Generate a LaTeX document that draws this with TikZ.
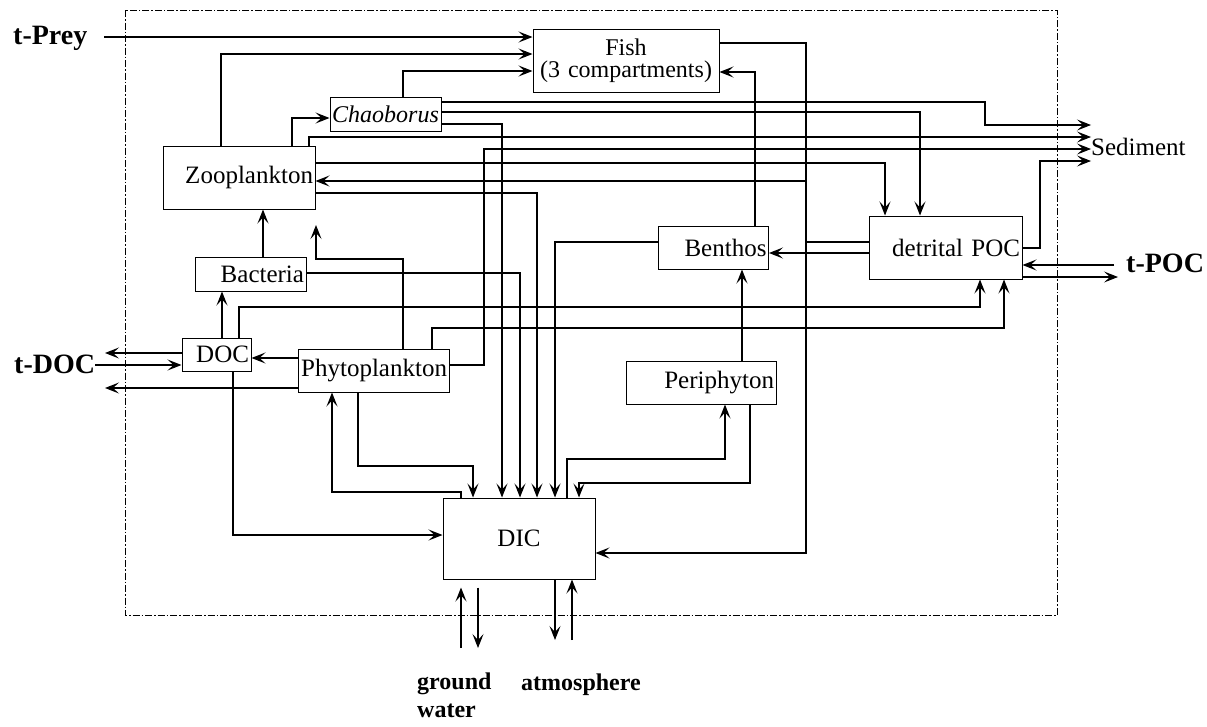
\documentclass[tikz,border=0pt]{standalone}
\usepackage{fontspec}
\setmainfont{Liberation Serif}
\usetikzlibrary{arrows.meta,positioning}

\begin{document}
\begin{tikzpicture}[x=1pt, y=-1pt,
  box/.style={draw, line width=1pt, inner xsep=2pt, inner ysep=0pt,
              font=\fontsize{25}{25}\selectfont, align=right},
  extlab/.style={font=\fontsize{28}{28}\selectfont\bfseries, inner sep=0pt},
  botlab/.style={font=\fontsize{24}{28}\selectfont\bfseries, inner sep=0pt, align=left},
  arr/.style={-{Stealth[length=14pt, width=11pt, inset=6pt]}, line width=1.1pt},
  flow/.style={line width=1.1pt},
  sysbound/.style={line width=0.8pt, dash pattern=on 7pt off 2pt on 1.5pt off 2pt}
]
  \useasboundingbox (0,0) rectangle (1207,726);

  % lake boundary
  \draw[sysbound] (125,10) rectangle (1057,615);

  % compartments
  \node[box, text width=182pt, minimum height=63pt, align=center,
        font=\fontsize{24}{22}\selectfont] (fish) at (626,60.5) {Fish\\(3 compartments)};
  \node[box, text width=107pt, minimum height=34pt, align=center,
        font=\fontsize{24}{24}\selectfont\itshape] (chao) at (385.5,114) {Chaoborus};
  \node[box, text width=148pt, minimum height=63pt] (zoo) at (239,177.5) {Zooplankton};
  \node[box, text width=107pt, minimum height=34pt] (bact) at (250.5,274) {Bacteria};
  \node[box, text width=65pt, minimum height=33pt] (doc) at (216.5,354.5) {DOC};
  \node[box, text width=147pt, minimum height=43pt] (phyto) at (373.5,370.5) {Phytoplankton};
  \node[box, text width=106pt, minimum height=43pt] (benthos) at (713.5,247.5) {Benthos};
  \node[box, text width=149pt, minimum height=63pt] (poc) at (945.5,247.5) {detrital POC};
  \node[box, text width=146pt, minimum height=43pt] (periph) at (701,382.5) {Periphyton};
  \node[box, text width=148pt, minimum height=81pt, align=center] (dic) at (519,538.5) {DIC};

  % outside the lake
  \node[extlab, anchor=base west] (tprey) at (13,44) {t-Prey};
  \node[extlab, anchor=base west] (tdoc) at (14,373) {t-DOC};
  \node[extlab, anchor=base west] (tpoc) at (1126,272) {t-POC};
  \node[font=\fontsize{25}{25}\selectfont, inner sep=0pt, anchor=base west] (sed) at (1091,155) {Sediment};
  \node[botlab, anchor=north west] (gw) at (417,673) {ground\\water};
  \node[botlab, anchor=base west] (atm) at (521,690) {atmosphere};

  \coordinate (preyin) at (104,37);
  \coordinate (docout) at (105,353);
  \coordinate (phytoout) at (105,388);
  \coordinate (tpocin) at (1114,265);
  \coordinate (tpocout) at (1118,277);
  \coordinate (phytozoo) at (316,225);
  \coordinate (gwin) at (461,648);
  \coordinate (gwout) at (478,648);
  \coordinate (atmout) at (555,640);
  \coordinate (atmin) at (572,640);

  % into fish
  \draw[arr] (preyin) -- (fish.west |- preyin);
  \draw[arr] (221,0 |- zoo.north) |- (fish.west |- 0,54);
  \draw[arr] (403,0 |- chao.north) |- (fish.west |- 0,71);
  \draw[arr] (755,0 |- benthos.north) |- (fish.east |- 0,72);
  \draw[arr] (292,0 |- zoo.north) |- (chao.west |- 0,118);

  % out of fish
  \draw[arr] (fish.east |- 0,43) -| (806,181) -- (zoo.east |- 0,181);
  \draw[arr] (806,181) |- (dic.east |- 0,553);
  \draw[flow] (poc.west |- 0,242) -- (806,242);

  % to sediment
  \draw[arr] (chao.east |- 0,102) -| (985,125) -- (sed.west |- 0,125);
  \draw[arr] (309,0 |- zoo.north) |- (sed.west |- 0,137);
  \draw[arr] (phyto.east |- 0,365) -| (484,149) -- (sed.west |- 0,149);
  \draw[arr] (poc.east |- 0,248) -| (1040,161) -- (sed.west |- 0,161);

  % to detrital POC
  \draw[arr] (chao.east |- 0,112) -| (920,0 |- poc.north);
  \draw[arr] (zoo.east |- 0,163) -| (885,0 |- poc.north);
  \draw[arr] (239,0 |- doc.north) |- (980,307) -- (980,0 |- poc.south);
  \draw[arr] (432,0 |- phyto.north) |- (1004,328) -- (1004,0 |- poc.south);
  \draw[arr] (tpocin) -- (poc.east |- tpocin);
  \draw[arr] (poc.east |- tpocout) -- (tpocout);
  \draw[arr] (poc.west |- 0,253) -- (benthos.east |- 0,253);

  % respiration to DIC
  \draw[arr] (chao.east |- 0,124) -| (502,0 |- dic.north);
  \draw[arr] (bact.east |- 0,273) -| (520,0 |- dic.north);
  \draw[arr] (zoo.east |- 0,193) -| (537,0 |- dic.north);
  \draw[arr] (benthos.west |- 0,242) -| (555,0 |- dic.north);
  \draw[arr] (233,0 |- doc.south) |- (dic.west |- 0,535);
  \draw[arr] (358,0 |- phyto.south) |- (473,466) -- (473,0 |- dic.north);
  \draw[arr] (750,0 |- periph.south) |- (579,483) -- (579,0 |- dic.north);

  % uptake from DIC
  \draw[arr] (461,0 |- dic.north) |- (332,492) -- (332,0 |- phyto.south);
  \draw[arr] (567,0 |- dic.north) |- (725,459) -- (725,0 |- periph.south);

  % lower food web
  \draw[arr] (742,0 |- periph.north) -- (742,0 |- benthos.south);
  \draw[arr] (263,0 |- bact.north) -- (263,0 |- zoo.south);
  \draw[arr] (222,0 |- doc.north) -- (222,0 |- bact.south);
  \draw[arr] (403,0 |- phyto.north) |- (316,259) -- (phytozoo);
  \draw[arr] (phyto.west |- 0,358) -- (doc.east |- 0,358);

  % DOC exchange
  \draw[arr] (doc.west |- docout) -- (docout);
  \draw[arr] (tdoc.east |- 0,365) -- (doc.west |- 0,365);
  \draw[arr] (phyto.west |- phytoout) -- (phytoout);

  % ground water and atmosphere
  \draw[arr, shorten >=8pt] (gwin) -- (gwin |- dic.south);
  \draw[arr, shorten <=8pt] (gwout |- dic.south) -- (gwout);
  \draw[arr] (atmout |- dic.south) -- (atmout);
  \draw[arr] (atmin) -- (atmin |- dic.south);
\end{tikzpicture}
\end{document}
